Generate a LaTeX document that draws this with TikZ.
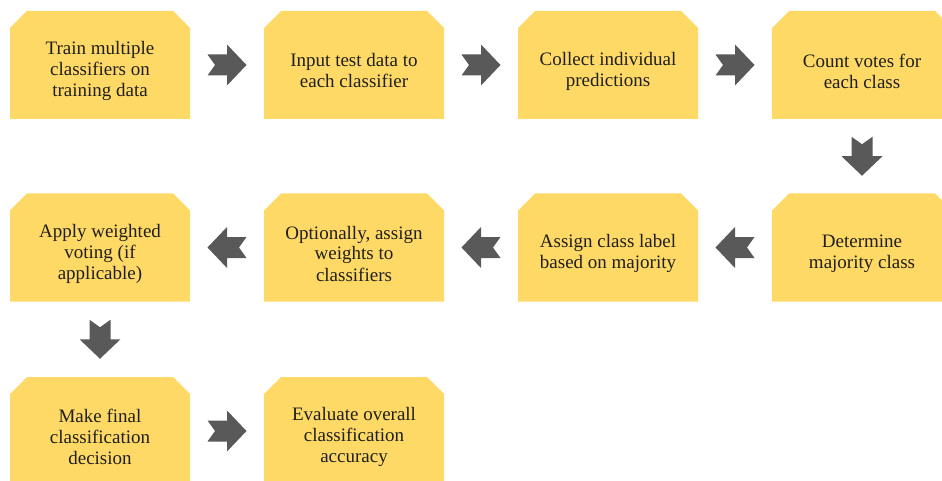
\documentclass[tikz,border=0pt]{standalone}
\usepackage{fontspec}
\setmainfont{Liberation Serif}
\usetikzlibrary{calc}
\definecolor{boxgold}{HTML}{FFD966}
\definecolor{arrowgray}{HTML}{595959}
\definecolor{inkdark}{HTML}{1F1F1F}
\tikzset{
  % a gold box whose two upper corners are cut off
  stepbox/.style={rectangle, minimum width=180pt, minimum height=108pt,
    inner sep=0pt, outer sep=0pt,
    path picture={
      \fill[boxgold]
        ([yshift=-17pt]path picture bounding box.north west)
        -- ([xshift=17pt]path picture bounding box.north west)
        -- ([xshift=-17pt]path picture bounding box.north east)
        -- ([yshift=-17pt]path picture bounding box.north east)
        -- (path picture bounding box.south east)
        -- (path picture bounding box.south west) -- cycle;}},
  steptext/.style={text=inkdark, align=center, inner sep=0pt,
    font=\fontsize{19}{21}\selectfont},
  blockarrow/.pic={
    \fill[arrowgray] (-19.5,-10.5) -- (0,-10.5) -- (0,-20.5) -- (19.5,0)
      -- (0,20.5) -- (0,10.5) -- (-19.5,10.5) -- (-12,0) -- cycle;}
}
\begin{document}
\begin{tikzpicture}[x=1pt,y=-1pt]
\useasboundingbox (0,0) rectangle (942,481);
\fill[white] (0,0) rectangle (942,481);

% boxes: four columns, three rows
\node[stepbox] (b1)  at (100,65)    {};
\node[stepbox] (b2)  at (354,65)    {};
\node[stepbox] (b3)  at (608,65)    {};
\node[stepbox] (b4)  at (862,65)    {};
\node[stepbox] (b5)  at (862,247.5) {};
\node[stepbox] (b6)  at (608,247.5) {};
\node[stepbox] (b7)  at (354,247.5) {};
\node[stepbox] (b8)  at (100,247.5) {};
\node[stepbox] (b9)  at (100,431)   {};
\node[stepbox] (b10) at (354,431)   {};

% labels, set a little below the box centre
\node[steptext] (t1)  at ([yshift=-6pt]b1.center)  {Train multiple\\classifiers on\\training data};
\node[steptext] (t2)  at ([yshift=-6pt]b2.center)  {Input test data to\\each classifier};
\node[steptext] (t3)  at ([yshift=-6pt]b3.center)  {Collect individual\\predictions};
\node[steptext] (t4)  at ([yshift=-6pt]b4.center)  {Count votes for\\each class};
\node[steptext] (t5)  at ([yshift=-6pt]b5.center)  {Determine\\majority class};
\node[steptext] (t6)  at ([yshift=-6pt]b6.center)  {Assign\ class label\\based on majority};
\node[steptext] (t7)  at ([yshift=-6pt]b7.center)  {Optionally, assign\\weights to\\classifiers};
\node[steptext] (t8)  at ([yshift=-6pt]b8.center)  {Apply weighted\\voting (if\\applicable)};
\node[steptext] (t9)  at ([yshift=-6pt]b9.center)  {Make final\\classification\\decision};
\node[steptext] (t10) at ([yshift=-6pt]b10.center) {Evaluate overall\\classification\\accuracy};

% block arrows between consecutive steps
\pic at ($(b1.east)!0.5!(b2.west)$) {blockarrow};
\pic at ($(b2.east)!0.5!(b3.west)$) {blockarrow};
\pic at ($(b3.east)!0.5!(b4.west)$) {blockarrow};
\pic[rotate=-90] at ($(b4.south)!0.5!(b5.north)$) {blockarrow};
\pic[rotate=180] at ($(b5.west)!0.5!(b6.east)$) {blockarrow};
\pic[rotate=180] at ($(b6.west)!0.5!(b7.east)$) {blockarrow};
\pic[rotate=180] at ($(b7.west)!0.5!(b8.east)$) {blockarrow};
\pic[rotate=-90] at ($(b8.south)!0.5!(b9.north)$) {blockarrow};
\pic at ($(b9.east)!0.5!(b10.west)$) {blockarrow};
\end{tikzpicture}
\end{document}
